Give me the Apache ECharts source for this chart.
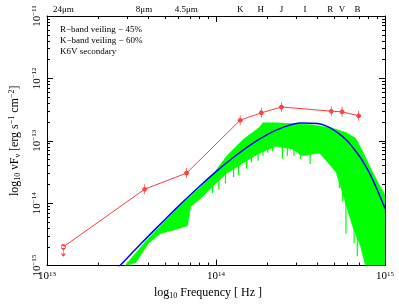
<!DOCTYPE html>
<html><head><meta charset="utf-8">
<script src="https://cdn.jsdelivr.net/npm/echarts@6/dist/echarts.min.js"></script>
<style>html,body{margin:0;padding:0;background:#fff}#c{width:399px;height:305px}</style>
</head><body><div id="c"></div>
<script>
// ---- data (log10 values) ----
const photLogFreq = [13.097, 13.578, 13.826, 14.143, 14.268, 14.387, 14.682, 14.746, 14.844];
const photLogFlux = [-14.70, -13.775, -13.517, -12.670, -12.552, -12.458, -12.525, -12.536, -12.598];
const photUpperLimit = [true, false, false, false, false, false, false, false, false];

const modelLogFreq = [13.40, 13.50, 13.60, 13.70, 13.80, 13.90, 14.00, 14.10, 14.20, 14.30, 14.40, 14.50, 14.60, 14.70, 14.80, 14.90, 15.00];
const modelLogFlux = [-15.090, -14.807, -14.528, -14.256, -13.991, -13.736, -13.495, -13.272, -13.072, -12.905, -12.781, -12.714, -12.723, -12.832, -13.071, -13.473, -14.083];

const specTopFreq = [13.462, 13.584, 13.699, 13.815, 13.902, 13.988, 14.064, 14.162, 14.254, 14.278, 14.364, 14.451, 14.567, 14.682, 14.769, 14.827, 14.867, 14.913, 14.960, 15.000];
const specTopFlux = [-15.000, -14.611, -14.284, -13.973, -13.755, -13.521, -13.241, -12.977, -12.790, -12.712, -12.712, -12.728, -12.743, -12.790, -12.868, -12.961, -13.163, -13.428, -13.677, -13.864];
const specLowFreq = [13.468, 13.526, 13.555, 13.601, 13.671, 13.757, 13.832, 13.850, 13.902, 13.931, 13.988, 14.064, 14.162, 14.260, 14.353, 14.451, 14.509, 14.613, 14.711, 14.769, 14.809, 14.855, 14.884, 15.000];
const specLowFlux = [-15.000, -14.953, -14.829, -14.642, -14.486, -14.424, -14.362, -14.051, -13.942, -13.864, -13.708, -13.521, -13.350, -13.195, -13.086, -13.132, -13.241, -13.195, -13.506, -14.019, -14.377, -14.689, -15.000, -15.000];
const dipLogFreq = [13.979, 14.017, 14.056, 14.104, 14.133, 14.181, 14.210, 14.249, 14.278, 14.306, 14.335, 14.364, 14.393, 14.422, 14.441, 14.461, 14.499, 14.557, 14.614, 14.643, 14.711, 14.730, 14.750, 14.769, 14.788, 14.817, 14.836];
const dipLogFlux = [-13.837, -13.786, -13.682, -13.579, -13.553, -13.448, -13.346, -13.319, -13.241, -13.190, -13.163, -13.086, -13.288, -13.241, -13.137, -13.241, -13.293, -13.370, -13.163, -13.241, -13.501, -13.760, -13.968, -14.486, -14.175, -14.642, -14.849];

const xMajor = [13, 14, 15];
const yMajor = [-15, -14, -13, -12, -11];
const bandLabels = ['24\u03bcm', '8\u03bcm', '4.5\u03bcm', 'K', 'H', 'J', 'I', 'R', 'V', 'B'];
const bandLogFreq = [13.097, 13.574, 13.824, 14.143, 14.265, 14.387, 14.526, 14.676, 14.746, 14.838];
const notes = ['R\u2212band veiling \u2212 45%', 'K\u2212band veiling \u2212 60%', 'K6V secondary'];

// ---- helpers ----
const FONT = '"Liberation Serif", "DejaVu Serif", serif';
function minorOf(majors) {
  const out = [];
  for (let i = 0; i < majors.length - 1; i++)
    for (let k = 2; k <= 9; k++) out.push(majors[i] + Math.log10(k));
  return out;
}
const xMinor = minorOf(xMajor);
const yMinor = minorOf(yMajor);
const minus = s => String(s).replace('-', '\u2212');
const zip = (a, b) => a.map((v, i) => [v, b[i]]);
function interp(xs, ys, x) {
  if (x <= xs[0]) return ys[0];
  for (let i = 1; i < xs.length; i++) if (x <= xs[i]) {
    const t = (x - xs[i-1]) / (xs[i] - xs[i-1]);
    return ys[i-1] + t * (ys[i] - ys[i-1]);
  }
  return ys[ys.length - 1];
}
const black = {color: '#000', width: 1};
function xAx(pos, ticks, len, label) {
  return {
    type: 'value', min: 13, max: 15, position: pos, splitLine: {show: false},
    axisLine: {show: !!label, onZero: false, lineStyle: black},
    axisTick: {show: true, inside: true, length: len, customValues: ticks, lineStyle: black},
    axisLabel: label || {show: false}
  };
}
function yAx(pos, ticks, len, label) {
  return {
    type: 'value', min: -15, max: -11, position: pos, splitLine: {show: false},
    axisLine: {show: !!label, onZero: false, lineStyle: black},
    axisTick: {show: true, inside: true, length: len, customValues: ticks, lineStyle: black},
    axisLabel: label || {show: false}
  };
}
const supRich = {b: {fontFamily: FONT, fontSize: 11, color: '#000'}, s: {fontFamily: FONT, fontSize: 7, color: '#000', verticalAlign: 'top', padding: [0, 0, 5, 0]}};

const option = {
  animation: false,
  backgroundColor: '#fff',
  grid: {left: 39, right: 14, top: 16, bottom: 32, show: false},
  xAxis: [
    Object.assign(xAx('bottom', xMajor, 6, {
      show: true, customValues: xMajor, margin: 5,
      formatter: v => '{b|10}{s|' + v + '}', rich: supRich
    }), {
      name: '{n|log}{u|10}{n| Frequency [ Hz ]}', nameLocation: 'middle', nameGap: 19,
      nameTextStyle: {padding: [0, 16, 0, 0], rich: {n: {fontFamily: FONT, fontSize: 12, color: '#000'}, u: {fontFamily: FONT, fontSize: 8, color: '#000', padding: [6, 0, 0, 0]}}}
    }),
    xAx('bottom', xMinor, 3, null),
    xAx('top', xMajor, 6, {
      show: true, customValues: bandLogFreq, margin: 2,
      fontFamily: FONT, fontSize: 9, color: '#000',
      formatter: v => { let best = 0; bandLogFreq.forEach((f, i) => { if (Math.abs(f - v) < Math.abs(bandLogFreq[best] - v)) best = i; }); return bandLabels[best]; }
    }),
    xAx('top', xMinor, 3, null)
  ],
  yAxis: [
    Object.assign(yAx('left', yMajor, 6, {
      show: true, customValues: yMajor, rotate: 90, margin: 4,
      formatter: v => '{b|10}{s|' + minus(v) + '}', rich: supRich
    }), {
      name: '{n|log}{u|10}{n| \u03bdF}{u|\u03bd}{n| [erg s}{s|\u22121}{n| cm}{s|\u22122}{n|]}',
      nameLocation: 'middle', nameGap: 25, nameRotate: 90,
      nameTextStyle: {rich: {
        n: {fontFamily: FONT, fontSize: 12, color: '#000'},
        u: {fontFamily: FONT, fontSize: 8, color: '#000', padding: [6, 0, 0, 0]},
        s: {fontFamily: FONT, fontSize: 8, color: '#000', padding: [0, 0, 6, 0]}
      }}
    }),
    yAx('left', yMinor, 3, null),
    yAx('right', yMajor, 6, {show: false}),
    yAx('right', yMinor, 3, null)
  ],
  graphic: notes.map((t, i) => ({
    type: 'text', left: 60, top: 25 + i * 11,
    style: {text: t, fontFamily: FONT, fontSize: 9, fill: '#000'}
  })),
  series: [
    {
      type: 'custom', name: 'spectrum', clip: true, z: 1,
      data: [[13, -15]],
      renderItem: (params, api) => {
        const pts = zip(specTopFreq, specTopFlux).concat(zip(specLowFreq, specLowFlux).reverse()).map(p => api.coord(p));
        return {type: 'polygon', shape: {points: pts}, style: {fill: '#00ff00', stroke: '#00ff00', lineWidth: 0.5}};
      }
    },
    {
      type: 'custom', name: 'dips', clip: true, z: 2,
      data: zip(dipLogFreq, dipLogFlux),
      renderItem: (params, api) => {
        const x = api.value(0), y = api.value(1);
        const a = api.coord([x, y]);
        const b = api.coord([x, interp(specTopFreq, specTopFlux, x)]);
        return {type: 'line', shape: {x1: a[0], y1: a[1], x2: b[0], y2: b[1]}, style: {stroke: '#00ff00', lineWidth: 1.2}};
      }
    },
    {
      type: 'line', name: 'model', z: 3, smooth: 0.3, symbol: 'none', clip: true,
      data: zip(modelLogFreq, modelLogFlux),
      lineStyle: {color: '#0000ff', width: 1.5}
    },
    {
      type: 'line', name: 'phot', z: 4, clip: false,
      data: photLogFreq.map((f, i) => photUpperLimit[i] ? {
        value: [f, photLogFlux[i]],
        symbol: 'path://M-2,0A2,2,0,1,0,2,0A2,2,0,1,0,-2,0ZM0,2L0,9M-2,6.5L0,9L2,6.5',
        symbolSize: [4, 11], symbolOffset: [0, 3.5]
      } : {value: [f, photLogFlux[i]]}),
      symbol: 'path://M-1.8,0A1.8,1.8,0,1,0,1.8,0A1.8,1.8,0,1,0,-1.8,0ZM0,-5L0,5M-2.5,0L2.5,0',
      symbolSize: [5, 10],
      itemStyle: {color: 'none', borderColor: '#ff3b3b', borderWidth: 1},
      lineStyle: {color: '#ff3b3b', width: 1}
    }
  ]
};
const chart = echarts.init(document.getElementById('c'), null, {renderer: 'canvas'});
chart.setOption(option);
</script></body></html>
